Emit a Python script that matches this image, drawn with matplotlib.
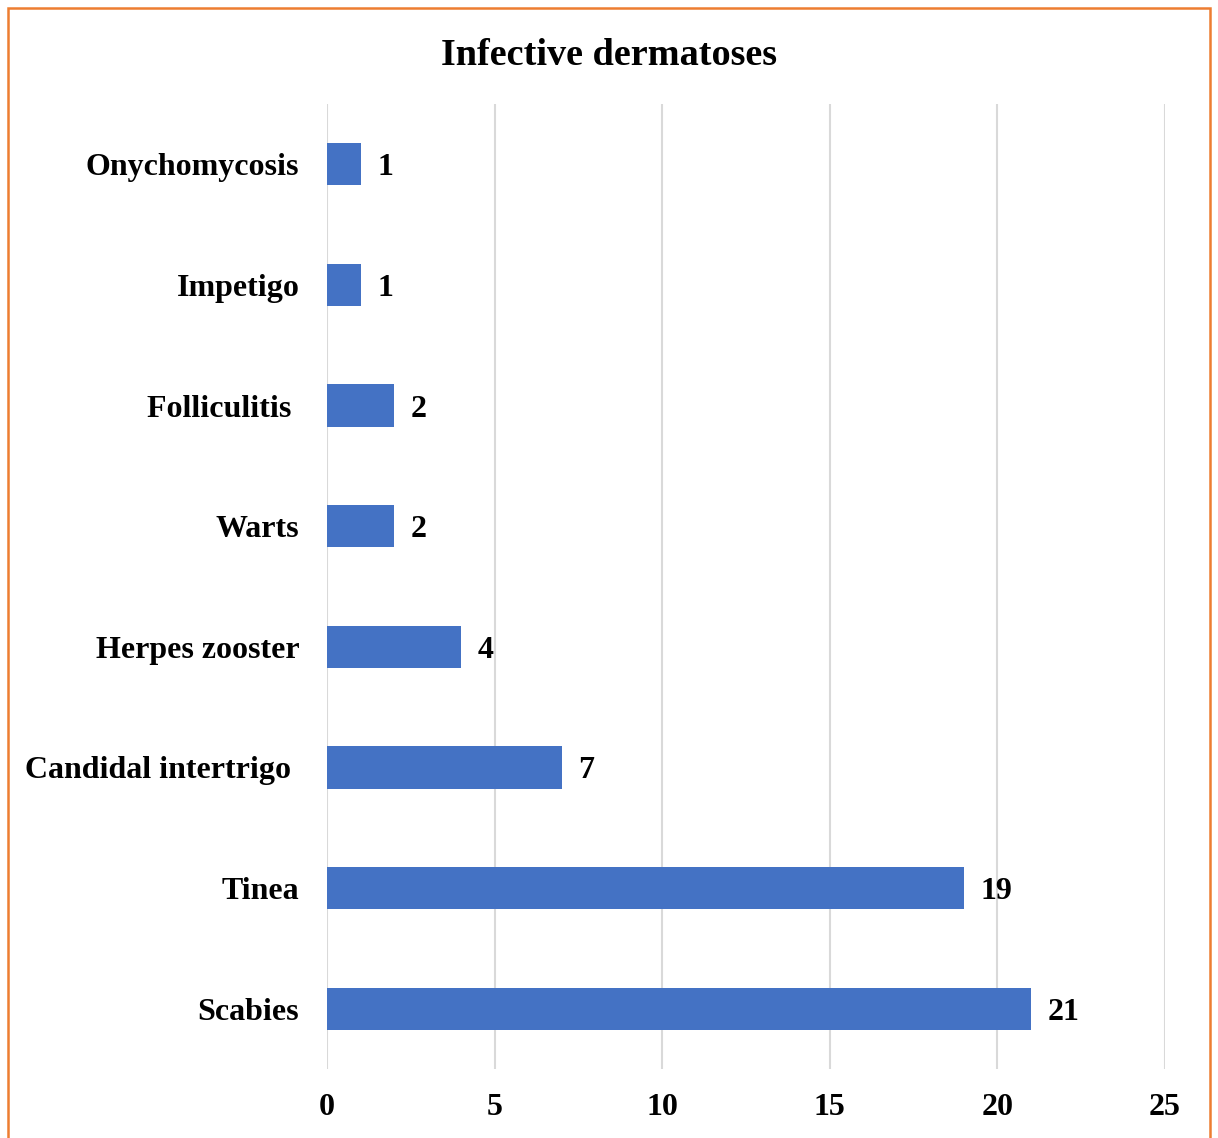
import matplotlib
matplotlib.use('Agg')
from matplotlib import pyplot as plt
from matplotlib.patches import Rectangle

# infective dermatoses, number of cases
categories = ['Scabies', 'Tinea', 'Candidal intertrigo ', 'Herpes zooster',
              'Warts', 'Folliculitis ', 'Impetigo', 'Onychomycosis']
counts = [21, 19, 7, 4, 2, 2, 1, 1]
xticks = [0, 5, 10, 15, 20, 25]

plt.rcParams['font.family'] = ['Liberation Serif', 'DejaVu Serif']
plt.rcParams['font.weight'] = 'bold'

fig = plt.figure(figsize=(12.18, 11.38), dpi=100)
ax = fig.add_axes([0.2685, 0.0606, 0.688, 0.848])

ypos = list(range(len(categories)))
bars = ax.barh(ypos, counts, height=0.35, color='#4472C4', zorder=3)

for b, v in zip(bars, counts):
    ax.text(b.get_width() + 0.5, b.get_y() + b.get_height() / 2, str(v),
            va='center_baseline', ha='left', fontsize=23, fontweight='bold')

ax.set_xlim(0, 25)
ax.set_ylim(-0.5, len(categories) - 0.5)
ax.set_xticks(xticks)
ax.set_xticklabels([str(t) for t in xticks], fontsize=23, fontweight='bold')
ax.set_yticks(ypos)
ax.set_yticklabels(categories, fontsize=23, fontweight='bold')
ax.tick_params(axis='both', length=0)
ax.tick_params(axis='y', pad=20)
ax.tick_params(axis='x', pad=17)
ax.grid(axis='x', color='#D9D9D9', linewidth=1.5, zorder=0)
for s in ax.spines.values():
    s.set_visible(False)

fig.text(0.5, 0.955, 'Infective dermatoses', ha='center', va='center_baseline',
         fontsize=27.5, fontweight='bold')

# orange frame round the chart
fig.patches.append(Rectangle((8 / 1218, -0.05), 1202 / 1218, 1.05 - 8 / 1138,
                             transform=fig.transFigure, fill=False,
                             edgecolor='#ED7D31', linewidth=1.8))

fig.savefig('out.png', dpi=100)
